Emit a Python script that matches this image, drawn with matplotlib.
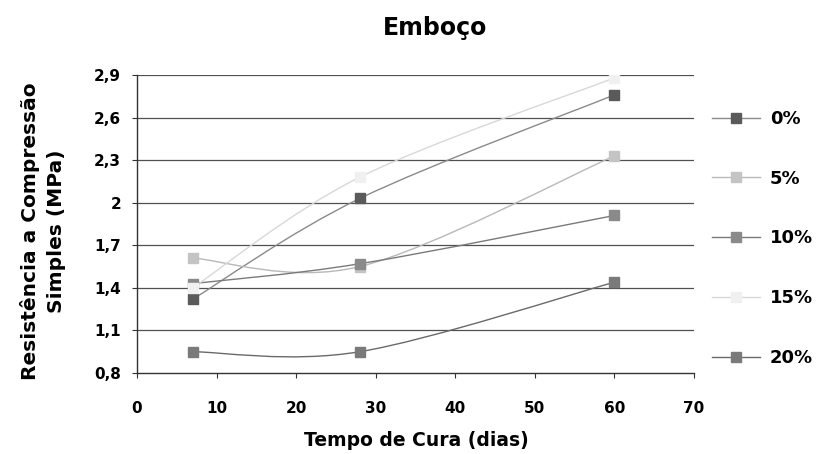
import numpy as np
import matplotlib
matplotlib.use("Agg")
import matplotlib.pyplot as plt
from matplotlib.path import Path
from matplotlib.patches import PathPatch
from matplotlib.lines import Line2D

plt.rcParams['font.family'] = ['DejaVu Sans']

# Data
days = [7, 28, 60]
labels = ['0%', '5%', '10%', '15%', '20%']
s0 = [1.32, 2.03, 2.76]
s5 = [1.61, 1.55, 2.33]
s10 = [1.43, 1.57, 1.91]
s15 = [1.40, 2.18, 2.88]
s20 = [0.95, 0.95, 1.44]
series = [s0, s5, s10, s15, s20]
yticks = [0.8, 1.1, 1.4, 1.7, 2.0, 2.3, 2.6, 2.9]
ytick_labels = ['0,8', '1,1', '1,4', '1,7', '2', '2,3', '2,6', '2,9']
xticks = [0, 10, 20, 30, 40, 50, 60, 70]

marker_colors = ['#5a5a5a', '#c4c4c4', '#8a8a8a', '#f0f0f0', '#7a7a7a']
line_colors = ['#8a8a8a', '#b8b8b8', '#7a7a7a', '#d8d8d8', '#6a6a6a']


def smooth_path(x, y):
    pts = np.column_stack([x, y]).astype(float)
    n = len(pts)
    verts = [pts[0]]
    codes = [Path.MOVETO]
    for i in range(n - 1):
        p_prev = pts[i - 1] if i > 0 else pts[i]
        p_next2 = pts[i + 2] if i + 2 < n else pts[i + 1]
        c1 = pts[i] + (pts[i + 1] - p_prev) / 6.0
        c2 = pts[i + 1] - (p_next2 - pts[i]) / 6.0
        verts += [c1, c2, pts[i + 1]]
        codes += [Path.CURVE4] * 3
    return Path(verts, codes)


fig = plt.figure(figsize=(8.19, 4.54), dpi=100)
ax = fig.add_axes([137 / 819, 1 - 373 / 454, 557 / 819, 298 / 454])

for yv in yticks[1:]:
    ax.axhline(yv, color='#505050', lw=0.9, zorder=1)

handles = []
for s, lab, mc, lc in zip(series, labels, marker_colors, line_colors):
    patch = PathPatch(smooth_path(days, s), facecolor='none', edgecolor=lc,
                      lw=1.0, zorder=2)
    ax.add_patch(patch)
    ax.plot(days, s, linestyle='none', marker='s', markersize=7,
            markerfacecolor=mc, markeredgecolor=mc, zorder=3)
    handles.append(Line2D([0], [0], color=lc, lw=1.0, marker='s', markersize=7,
                          markerfacecolor=mc, markeredgecolor=mc))

ax.set_xlim(0, 70)
ax.set_ylim(0.8, 2.9)
ax.set_xticks(xticks)
ax.set_xticklabels([str(v) for v in xticks], fontsize=11, fontweight='bold')
ax.set_yticks(yticks)
ax.set_yticklabels(ytick_labels, fontsize=11, fontweight='bold')
ax.tick_params(axis='x', length=3.5, width=0.8, color='#333333', pad=17)
ax.tick_params(axis='y', length=3.5, width=0.8, color='#333333', pad=8)
for sp in ['top', 'right']:
    ax.spines[sp].set_visible(False)
for sp in ['left', 'bottom']:
    ax.spines[sp].set_color('#333333')
    ax.spines[sp].set_linewidth(1.0)

fig.text(435 / 819, 1 - 28 / 454, 'Emboço', ha='center', va='center',
         fontsize=17, fontweight='bold')
fig.text(416 / 819, 1 - 441 / 454, 'Tempo de Cura (dias)', ha='center',
         va='center', fontsize=13.5, fontweight='bold')
fig.text(43 / 819, 1 - 231 / 454, 'Resistência a Compressão\nSimples (MPa)',
         ha='center', va='center', rotation=90, fontsize=14.5,
         fontweight='bold', linespacing=1.4)

leg = fig.legend(handles, labels, loc='upper left',
                 bbox_to_anchor=(712 / 819, 1 - 110 / 454), frameon=False,
                 prop={'size': 13, 'weight': 'bold'}, handlelength=2.66,
                 handletextpad=0.55, labelspacing=2.31, borderpad=0,
                 borderaxespad=0)

fig.savefig('out.png', dpi=100)
